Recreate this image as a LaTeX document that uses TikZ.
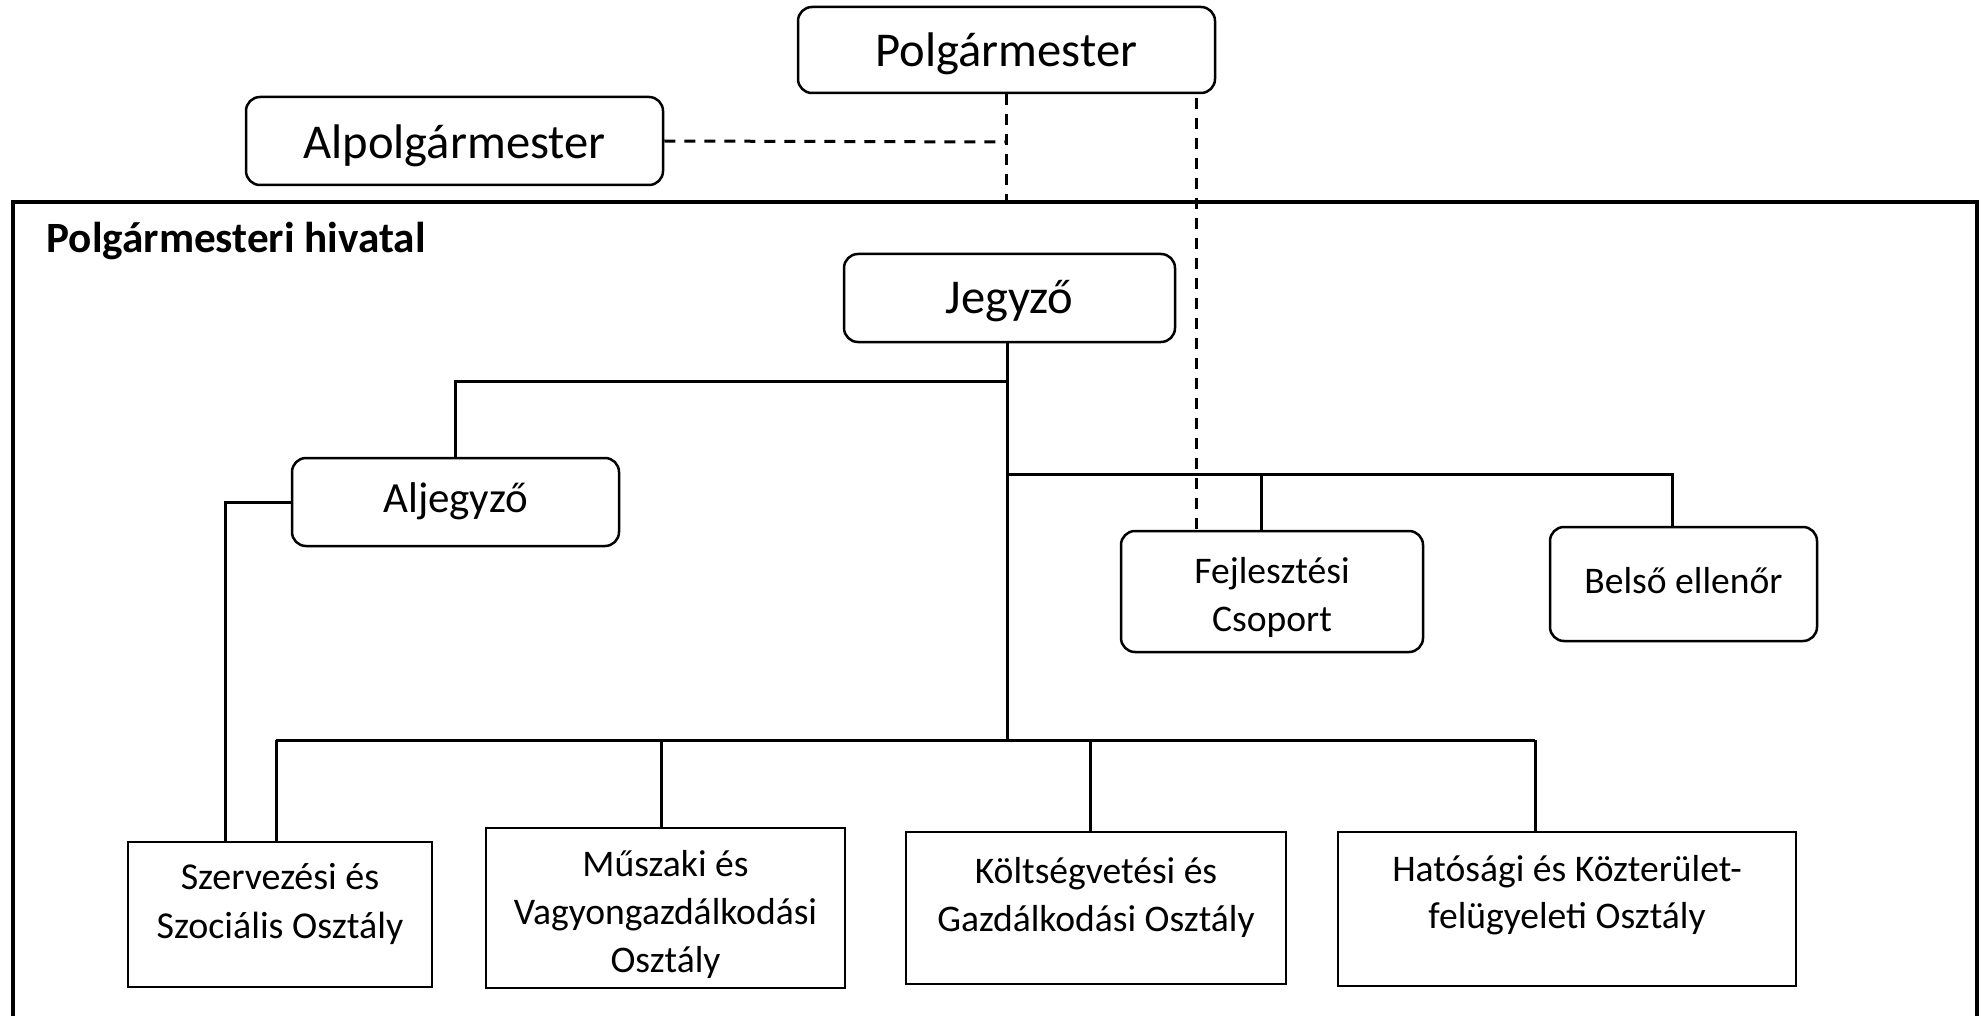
\documentclass[tikz,border=0pt]{standalone}
\usepackage{fontspec}
\setmainfont{Carlito}
\newcommand\liftt[2]{\raisebox{#1}[\height][\depth]{\begin{tabular}{@{}c@{}}#2\end{tabular}}}
\begin{document}
\begin{tikzpicture}[x=1pt,y=-1pt,
  rbox/.style={draw, line width=2.5pt, rounded corners=14pt, inner sep=0pt},
  sbox/.style={draw, line width=2.5pt, inner sep=0pt},
  big/.style={font=\fontsize{48.6}{60}\selectfont},
  mid/.style={font=\fontsize{43}{54}\selectfont},
  small/.style={font=\fontsize{37.6}{48}\selectfont},
  conn/.style={line width=3pt},
  dashline/.style={line width=3pt, dash pattern=on 11pt off 9pt}]
\useasboundingbox (0,0) rectangle (1983,1016);
\fill[white] (0,0) rectangle (1983,1016);
% frame
\draw[line width=4.5pt] (13,202) rectangle (1977,1060);
\node[anchor=base west, font=\fontsize{43.2}{50}\selectfont\bfseries] (title) at (43,253) {Polgármesteri hivatal};
% boxes
\node[rbox, big, minimum width=417pt, minimum height=86pt] (pm) at (1006.5,50) {\liftt{-5pt}{Polgármester}};
\node[rbox, big, minimum width=417pt, minimum height=88pt] (apm) at (454.5,141) {\liftt{-6pt}{Alpolgármester}};
\node[rbox, big, minimum width=331pt, minimum height=88pt] (jegy) at (1009.5,298) {\liftt{-4pt}{Jegyző}};
\node[rbox, mid, minimum width=327pt, minimum height=88pt] (alj) at (455.5,502) {\liftt{0pt}{Aljegyző}};
\node[rbox, small, minimum width=302pt, minimum height=121pt] (fejl) at (1272,591.5) {\liftt{-6pt}{Fejlesztési\\Csoport}};
\node[rbox, small, minimum width=267pt, minimum height=114pt] (belso) at (1683.5,584) {\liftt{0pt}{Belső ellenőr}};
\node[sbox, minimum width=304pt, minimum height=145pt, font=\fontsize{38}{49}\selectfont] (szerv) at (280,914.5) {\liftt{10pt}{Szervezési és\\Szociális Osztály}};
\node[sbox, small, minimum width=359pt, minimum height=160pt] (musz) at (665.5,908) {\liftt{-7pt}{Műszaki és\\Vagyongazdálkodási\\Osztály}};
\node[sbox, small, minimum width=380pt, minimum height=152pt] (kolt) at (1096,908) {\liftt{10pt}{Költségvetési és\\Gazdálkodási Osztály}};
\node[sbox, minimum width=458pt, minimum height=154pt, font=\fontsize{37.6}{47}\selectfont] (hat) at (1567,909) {\liftt{13pt}{Hatósági és Közterület-\\felügyeleti Osztály}};
% coordinates
\coordinate (d1) at (1006,142);
\coordinate (ftop) at (1006,202);
\coordinate (d2) at (1196,98);
\coordinate (t1) at (1007,381);
\coordinate (t2) at (1007,474);
\coordinate (t3) at (1007,740);
\coordinate (lft) at (225,502);
\coordinate (r1) at (1261,474);
\coordinate (r2) at (1672,474);
\coordinate (b1) at (276,740);
\coordinate (b2) at (661,740);
\coordinate (b3) at (1090,740);
\coordinate (b4) at (1535,740);
% dashed connectors
\draw[dashline] (pm.south -| ftop) -- (ftop);
\draw[dashline] (apm.east) -- (d1);
\draw[dashline] (d2) -- (fejl.north -| d2);
% solid connectors
\draw[conn] (jegy.south -| t3) -- (t3);
\draw[conn] (t1) -- (t1 -| alj.north) -- (alj.north);
\draw[conn] (alj.west) -- (lft) -- (szerv.north -| lft);
\draw[conn] (t2) -- (r2) -- (belso.north -| r2);
\draw[conn] (r1) -- (fejl.north -| r1);
\draw[conn] (b1) -- (b4);
\draw[conn] (b1) -- (szerv.north -| b1);
\draw[conn] (b2) -- (musz.north -| b2);
\draw[conn] (b3) -- (kolt.north -| b3);
\draw[conn] (b4) -- (hat.north -| b4);
\end{tikzpicture}
\end{document}
